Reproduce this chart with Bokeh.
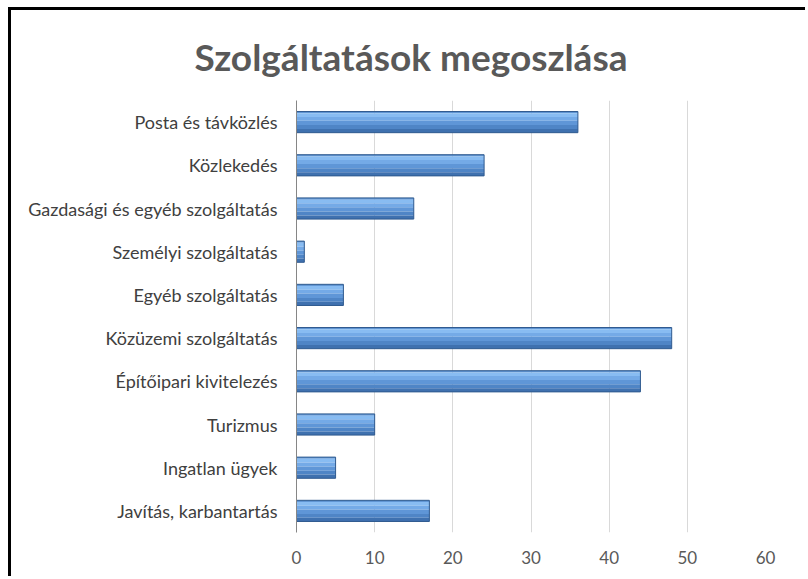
from bokeh.plotting import figure
from bokeh.models import FactorRange, FixedTicker, Title
from bokeh.transform import dodge
from bokeh.embed import file_html
from bokeh.resources import INLINE
from bokeh.models import ColumnDataSource

# Data (top to bottom as shown in the chart)
categories = [
    "Posta és távközlés",
    "Közlekedés",
    "Gazdasági és egyéb szolgáltatás",
    "Személyi szolgáltatás",
    "Egyéb szolgáltatás",
    "Közüzemi szolgáltatás",
    "Építőipari kivitelezés",
    "Turizmus",
    "Ingatlan ügyek",
    "Javítás, karbantartás",
]
values = [36, 24, 15, 1, 6, 48, 44, 10, 5, 17]
x_ticks = [0, 10, 20, 30, 40, 50, 60]
title_text = "Szolgáltatások megoszlása"

FONT = "Lato"

src = ColumnDataSource(dict(cat=categories, val=values))

p = figure(
    width=797, height=569,
    y_range=FactorRange(factors=list(reversed(categories))),
    x_range=(0, 60),
    output_backend="svg", toolbar_location=None,
    min_border_left=285, min_border_right=43,
    min_border_bottom=47, min_border_top=90,
    margin=(7, 0, 0, 8),
    styles={"border-top": "3px solid black", "border-left": "3px solid black"},
)

t = Title(text=title_text, align="left", offset=-102, vertical_align="top",
          text_font=FONT, text_font_size="37px", text_font_style="bold",
          text_color="#595959", standoff=40)
p.add_layout(t, "above")

# gradient bands (top -> bottom) to imitate the bevelled bars
BAR_H = 0.49
bands = [
    (0.245, 0.205, "#6196d4"),
    (0.205, 0.12, "#88bcf2"),
    (0.12, 0.03, "#74aae7"),
    (0.03, -0.07, "#5f96d7"),
    (-0.07, -0.16, "#4f85c6"),
    (-0.16, -0.245, "#3f71af"),
]
for top, bot, col in bands:
    p.hbar(y=dodge("cat", (top + bot) / 2, range=p.y_range), right="val", left=0,
           height=top - bot, source=src, fill_color=col, line_color=None)
# outline
p.hbar(y="cat", right="val", left=0, height=BAR_H, source=src,
       fill_color=None, line_color="#2f5a8f", line_width=1)

p.xaxis.ticker = FixedTicker(ticks=x_ticks)
p.xaxis.axis_line_color = None
p.xaxis.major_tick_line_color = None
p.xaxis.minor_tick_line_color = None
p.xaxis.major_label_text_font = FONT
p.xaxis.major_label_text_font_size = "17px"
p.xaxis.major_label_text_color = "#595959"
p.xaxis.major_label_standoff = 12

p.yaxis.axis_line_color = "#868686"
p.yaxis.major_tick_line_color = None
p.yaxis.minor_tick_line_color = None
p.yaxis.major_label_text_font = FONT
p.yaxis.major_label_text_font_size = "18px"
p.yaxis.major_label_text_color = "#404040"
p.yaxis.major_label_standoff = 13

p.xgrid.grid_line_color = "#d9d9d9"
p.ygrid.grid_line_color = None
p.outline_line_color = None
p.background_fill_color = "white"
p.border_fill_color = "white"

open("out.html", "w").write(file_html(p, INLINE))
